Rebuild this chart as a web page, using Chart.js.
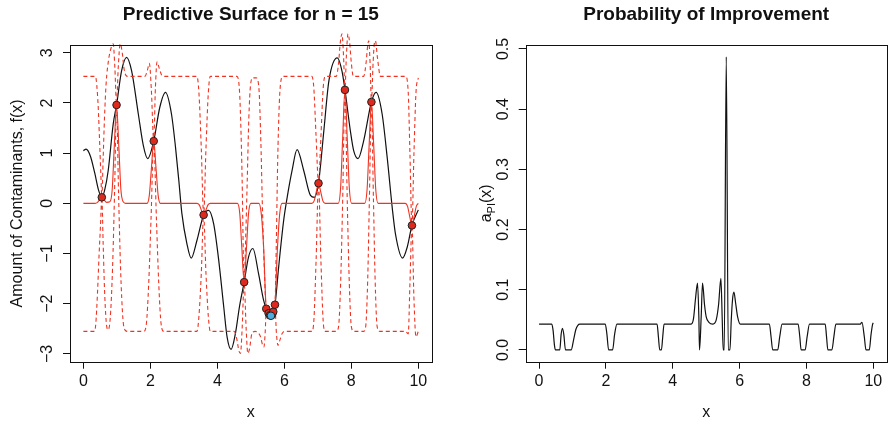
<!DOCTYPE html>
<html>
<head>
<meta charset="utf-8">
<script src="https://cdn.jsdelivr.net/npm/chart.js@4.4.0/dist/chart.umd.min.js"></script>
<style>
  html, body { margin: 0; padding: 0; background: #fff; }
  #wrap { position: relative; width: 889px; height: 424px; }
  #left { position: absolute; left: 0; top: 0; }
  #right { position: absolute; left: 445px; top: 0; }
</style>
</head>
<body>
<div id="wrap">
  <canvas id="left" width="445" height="424"></canvas>
  <canvas id="right" width="444" height="424"></canvas>
</div>
<script>
// ---- tick positions ----
const xTickValues = [0, 2, 4, 6, 8, 10];
const surfaceTickValues = [-3, -2, -1, 0, 1, 2, 3];
const piTickValues = [0, 0.1, 0.2, 0.3, 0.4, 0.5];

// ---- true response f(x) ----
const trueX = [0.00, 0.08, 0.21, 0.34, 0.45, 0.55, 0.64, 0.74, 0.89, 0.99, 1.14, 1.29, 1.44, 1.64, 1.79, 1.92,
  2.10, 2.28, 2.45, 2.63, 2.75, 2.85, 2.94, 3.09, 3.22, 3.39, 3.59, 3.74, 3.89, 4.04, 4.19, 4.29, 4.41, 4.54,
  4.66, 4.80, 4.93, 5.06, 5.23, 5.38, 5.46, 5.58, 5.72, 5.83, 5.98, 6.08, 6.23, 6.38, 6.58, 6.78, 6.90, 7.02,
  7.18, 7.33, 7.58, 7.72, 7.81, 7.97, 8.07, 8.20, 8.37, 8.60, 8.74, 8.92, 9.07, 9.23, 9.32, 9.53, 9.67, 9.81, 10.00];
const trueY = [1.05, 1.08, 0.94, 0.60, 0.27, 0.12, 0.28, 0.65, 1.58, 1.96, 2.64, 2.91, 2.64, 1.78, 1.15, 0.89,
  1.24, 1.91, 2.21, 1.78, 1.12, 0.45, -0.20, -0.80, -1.09, -0.74, -0.23, -0.14, -0.41, -1.13, -2.06, -2.66, -2.91, -2.59,
  -2.06, -1.57, -1.07, -0.90, -1.40, -1.93, -2.10, -2.25, -2.02, -1.27, -0.34, 0.10, 0.65, 1.07, 0.65, 0.16, 0.12, 0.40,
  1.45, 2.44, 2.90, 2.64, 2.26, 1.45, 1.05, 0.89, 1.25, 2.02, 2.21, 1.78, 0.92, -0.14, -0.62, -1.09, -0.87, -0.44, -0.13];

// ---- predictive mean ----
const meanX = [0.00, 0.35, 0.42, 0.48, 0.55, 0.62, 0.69, 0.79, 0.86, 0.92, 0.99, 1.06, 1.12, 1.19, 1.26,
  1.90, 1.97, 2.03, 2.10, 2.17, 2.23, 2.30,
  3.39, 3.46, 3.52, 3.59, 3.66, 3.72, 3.79,
  4.60, 4.67, 4.73, 4.80, 4.87, 4.93, 5.00,
  5.24, 5.31, 5.38, 5.46, 5.53, 5.57, 5.63, 5.67, 5.72, 5.79, 5.86, 5.93,
  6.82, 6.89, 6.95, 7.02, 7.09, 7.15, 7.22,
  7.61, 7.68, 7.74, 7.81, 7.88, 7.94, 8.01,
  8.40, 8.47, 8.53, 8.60, 8.67, 8.73, 8.80,
  9.61, 9.68, 9.74, 9.81, 9.88, 9.94, 10.00];
const meanY = [0.00, 0.00, 0.02, 0.07, 0.12, 0.07, 0.02, 0.03, 0.27, 1.10, 1.96, 1.10, 0.27, 0.03, 0.00,
  0.00, 0.17, 0.69, 1.24, 0.69, 0.17, 0.00,
  0.00, -0.03, -0.13, -0.23, -0.13, -0.03, 0.00,
  0.00, -0.21, -0.88, -1.57, -0.88, -0.21, 0.00,
  0.00, -0.20, -0.85, -2.10, -2.19, -2.23, -2.22, -2.16, -2.02, -0.95, -0.22, 0.00,
  0.00, 0.05, 0.22, 0.40, 0.22, 0.05, 0.00,
  0.00, 0.31, 1.27, 2.26, 1.27, 0.31, 0.00,
  0.00, 0.27, 1.13, 2.02, 1.13, 0.27, 0.00,
  0.00, -0.06, -0.25, -0.44, -0.25, -0.06, 0.00];

// ---- upper interval bound ----
const upperX = [0.00, 0.36, 0.40, 0.44, 0.48, 0.52, 0.55, 0.59, 0.63, 0.68, 0.75, 0.82, 0.89, 0.94, 0.99, 1.04,
  1.10, 1.16, 1.21, 1.27, 1.33,
  1.84, 1.91, 1.97, 2.03, 2.10, 2.15, 2.20, 2.27, 2.34, 2.40,
  3.39, 3.45, 3.52, 3.59, 3.66, 3.73, 3.79,
  4.58, 4.66, 4.73, 4.80, 4.85, 4.89, 4.94, 4.99, 5.06, 5.16, 5.24, 5.30, 5.35, 5.41,
  5.46, 5.50, 5.53, 5.55, 5.57, 5.60, 5.63, 5.65, 5.67, 5.70, 5.72, 5.76, 5.80, 5.85, 5.90, 5.96,
  6.82, 6.88, 6.95, 7.02, 7.09, 7.16, 7.22,
  7.55, 7.62, 7.67, 7.72, 7.77, 7.81, 7.85, 7.90, 7.95, 8.00, 8.06,
  8.37, 8.44, 8.49, 8.52, 8.56, 8.60, 8.65, 8.69, 8.72, 8.78, 8.87,
  9.62, 9.70, 9.75, 9.81, 9.87, 9.93, 10.00];
const upperY = [2.53, 2.53, 2.35, 1.95, 1.30, 0.60, 0.12, 0.90, 1.70, 2.40, 2.85, 3.08, 3.18, 2.70, 1.96, 2.70,
  3.18, 3.00, 2.70, 2.55, 2.53,
  2.53, 2.65, 2.79, 2.25, 1.24, 2.30, 2.82, 2.68, 2.55, 2.53,
  2.53, 2.20, 1.10, -0.23, 1.10, 2.20, 2.53,
  2.53, 2.25, 0.80, -1.57, -0.60, 0.40, 1.70, 2.35, 2.50, 2.50, 2.30, 1.20, -0.20, -1.45,
  -2.10, -2.06, -2.19, -2.16, -2.23, -2.15, -2.22, -2.13, -2.16, -1.98, -2.02, -0.80, 0.80, 2.00, 2.45, 2.53,
  2.53, 2.30, 1.30, 0.40, 1.30, 2.30, 2.53,
  2.53, 2.80, 3.20, 3.38, 2.90, 2.26, 2.90, 3.38, 3.20, 2.80, 2.53,
  2.53, 2.80, 3.15, 3.24, 2.80, 2.02, 2.80, 3.20, 3.24, 2.90, 2.53,
  2.53, 2.20, 1.00, -0.44, 1.00, 2.20, 2.50];

// ---- lower interval bound ----
const lowerX = [0.00, 0.33, 0.37, 0.42, 0.47, 0.51, 0.55, 0.59, 0.63, 0.68, 0.73, 0.80, 0.87, 0.93, 0.99, 1.05,
  1.11, 1.18, 1.25, 1.32,
  1.80, 1.88, 1.95, 2.02, 2.10, 2.18, 2.25, 2.32, 2.40,
  3.39, 3.45, 3.52, 3.59, 3.66, 3.73, 3.79,
  4.50, 4.58, 4.64, 4.69, 4.74, 4.80, 4.86, 4.91, 4.96, 5.03, 5.13, 5.22, 5.29, 5.35, 5.39, 5.43,
  5.46, 5.50, 5.53, 5.55, 5.57, 5.60, 5.63, 5.65, 5.67, 5.70, 5.72, 5.76, 5.81, 5.87, 5.93, 6.00,
  6.82, 6.88, 6.95, 7.02, 7.09, 7.16, 7.22,
  7.55, 7.62, 7.68, 7.74, 7.81, 7.88, 7.94, 8.00, 8.07,
  8.37, 8.43, 8.49, 8.54, 8.60, 8.66, 8.71, 8.77, 8.85,
  9.62, 9.70, 9.75, 9.81, 9.87, 9.93, 10.00];
const lowerY = [-2.55, -2.55, -2.40, -1.80, -1.00, -0.45, 0.12, -0.80, -1.70, -2.35, -2.52, -2.30, -1.30, 0.20, 1.96, 0.20,
  -1.30, -2.30, -2.53, -2.55,
  -2.55, -2.40, -1.60, -0.30, 1.24, -0.30, -1.60, -2.40, -2.55,
  -2.55, -2.25, -1.40, -0.23, -1.40, -2.25, -2.55,
  -2.55, -2.70, -2.93, -2.99, -2.50, -1.57, -2.50, -2.99, -2.90, -2.60, -2.55, -2.58, -2.66, -2.82, -2.86, -2.55,
  -2.10, -2.24, -2.19, -2.28, -2.23, -2.33, -2.22, -2.26, -2.16, -2.12, -2.02, -2.55, -2.83, -2.72, -2.60, -2.55,
  -2.55, -2.35, -1.10, 0.40, -1.10, -2.35, -2.55,
  -2.55, -2.45, -1.60, 0.00, 2.26, 0.00, -1.60, -2.45, -2.55,
  -2.55, -2.45, -1.50, 0.10, 2.02, 0.10, -1.50, -2.45, -2.55,
  -2.55, -2.60, -1.60, -0.44, -1.90, -2.66, -2.55];

// ---- evaluated design (n = 15) and the next acquisition ----
const designX = [0.55, 0.99, 2.10, 3.59, 4.80, 5.46, 5.53, 5.57, 5.63, 5.67, 5.72, 7.02, 7.81, 8.60, 9.81];
const designY = [0.12, 1.96, 1.24, -0.23, -1.57, -2.10, -2.19, -2.23, -2.22, -2.16, -2.02, 0.40, 2.26, 2.02, -0.44];
const nextX = [5.60];
const nextY = [-2.24];

// ---- probability of improvement ----
const piX = [0.00, 0.38, 0.42, 0.46, 0.49, 0.62, 0.66, 0.70, 0.74, 0.79, 0.96, 1.03, 1.10, 1.16, 1.22,
  1.98, 2.03, 2.08, 2.20, 2.26, 2.33,
  3.53, 3.57, 3.61, 3.66, 3.70, 3.74,
  4.55, 4.62, 4.68, 4.74, 4.78, 4.80, 4.85, 4.89, 4.95, 5.00, 5.08, 5.20,
  5.30, 5.37, 5.44, 5.48, 5.51, 5.54, 5.60, 5.66, 5.71, 5.75, 5.79, 5.83, 5.88, 5.94, 6.02,
  6.89, 6.94, 6.99, 7.14, 7.20, 7.27,
  7.75, 7.80, 7.84, 7.96, 8.02, 8.09,
  8.56, 8.60, 8.64, 8.76, 8.82, 8.88,
  9.61, 9.66, 9.73, 9.78, 9.88, 9.93, 9.98, 10.00];
const piY = [0.043, 0.043, 0.032, 0.008, 0.000, 0.000, 0.026, 0.036, 0.026, 0.000, 0.000, 0.016, 0.034, 0.041, 0.043,
  0.043, 0.026, 0.000, 0.000, 0.026, 0.043,
  0.043, 0.022, 0.000, 0.000, 0.022, 0.043,
  0.043, 0.052, 0.085, 0.111, 0.055, 0.000, 0.055, 0.111, 0.075, 0.055, 0.046, 0.043,
  0.050, 0.075, 0.119, 0.050, 0.000, 0.000, 0.487, 0.000, 0.000, 0.050, 0.085, 0.096, 0.078, 0.055, 0.043,
  0.043, 0.022, 0.000, 0.000, 0.022, 0.043,
  0.043, 0.022, 0.000, 0.000, 0.022, 0.043,
  0.043, 0.022, 0.000, 0.000, 0.022, 0.043,
  0.043, 0.046, 0.022, 0.000, 0.000, 0.025, 0.043, 0.045];

// ---- styling ----
const FAMILY = '"Liberation Sans", Arial, Helvetica, sans-serif';
const INK = '#111';
const RED = '#ee3322';
const AXIS_PX = 16;

const pts = (xs, ys) => xs.map((x, i) => ({ x, y: ys[i] }));
const minusFmt = v => (v < 0 ? '\u2212' + Math.abs(v) : String(v));

// Box, tick labels and axis titles in the style of base graphics
function rStyleAxes(id, s) {
  return {
    id,
    afterDraw(chart) {
      const { ctx, chartArea: a } = chart;
      const xs = chart.scales.x, ys = chart.scales.y;
      ctx.save();
      ctx.strokeStyle = INK;
      ctx.lineWidth = 1;
      const l = Math.round(a.left), r = Math.round(a.right), t = Math.round(a.top), b = Math.round(a.bottom);
      ctx.strokeRect(l + 0.5, t + 0.5, r - l, b - t);

      ctx.fillStyle = INK;
      ctx.font = AXIS_PX + 'px ' + FAMILY;
      ctx.textAlign = 'center';
      ctx.textBaseline = 'middle';
      xTickValues.forEach(v => ctx.fillText(String(v), xs.getPixelForValue(v), s.xLabelY));
      ctx.fillText('x', (a.left + a.right) / 2, s.xTitleY);

      ctx.textBaseline = 'alphabetic';
      s.yTicks.forEach(v => {
        ctx.save();
        ctx.translate(s.yLabelX, ys.getPixelForValue(v));
        ctx.rotate(-Math.PI / 2);
        ctx.fillText(s.format(v), 0, 0);
        ctx.restore();
      });

      ctx.save();
      ctx.translate(s.yTitleX, (a.top + a.bottom) / 2);
      ctx.rotate(-Math.PI / 2);
      ctx.textAlign = 'left';
      let total = 0;
      const widths = s.yTitle.map(p => {
        ctx.font = p.size + 'px ' + FAMILY;
        const w = ctx.measureText(p.text).width;
        total += w;
        return w;
      });
      let cx = -total / 2;
      s.yTitle.forEach((p, i) => {
        ctx.font = p.size + 'px ' + FAMILY;
        ctx.fillText(p.text, cx, p.drop);
        cx += widths[i];
      });
      ctx.restore();
      ctx.restore();
    }
  };
}

function axis(min, max, ticks, fit) {
  return {
    type: 'linear',
    min, max,
    afterBuildTicks: sc => { sc.ticks = ticks.map(v => ({ value: v })); },
    afterFit: fit,
    ticks: { display: false },
    border: { display: false },
    grid: { display: true, drawOnChartArea: false, drawTicks: true, tickLength: 7, color: INK, lineWidth: 1 }
  };
}

function baseOptions(title, padLeft, padRight, yMin, yMax, yTicks) {
  return {
    responsive: false,
    animation: false,
    events: [],
    layout: { padding: { left: padLeft, right: padRight, top: 0, bottom: 0 } },
    plugins: {
      legend: { display: false },
      tooltip: { enabled: false },
      title: {
        display: true, text: title, color: INK, fullSize: false,
        font: { family: FAMILY, size: 19, weight: 'bold' },
        padding: { top: 3, bottom: 19.2 }
      }
    },
    scales: {
      x: axis(-0.4, 10.4, xTickValues, sc => { sc.height = 62.3; }),
      y: axis(yMin, yMax, yTicks, sc => { sc.width = 0; })
    }
  };
}

const lineSet = (data, color, width, extra) => Object.assign({
  data, showLine: true, borderColor: color, borderWidth: width, pointRadius: 0,
  cubicInterpolationMode: 'monotone', fill: false
}, extra || {});

// Left panel: predictive surface
new Chart(document.getElementById('left'), {
  type: 'scatter',
  data: {
    datasets: [
      lineSet(pts(trueX, trueY), INK, 1.2, { order: 5 }),
      lineSet(pts(upperX, upperY), RED, 1.1, { borderDash: [4, 3], clip: false, order: 4 }),
      lineSet(pts(lowerX, lowerY), RED, 1.1, { borderDash: [4, 3], clip: false, order: 3 }),
      lineSet(pts(meanX, meanY), RED, 1.1, { order: 2 }),
      {
        data: pts(designX, designY), showLine: false, pointRadius: 3.8, pointStyle: 'circle',
        pointBackgroundColor: '#e0291d', pointBorderColor: '#222', pointBorderWidth: 1, order: 1
      },
      {
        data: pts(nextX, nextY), showLine: false, pointRadius: 3.8, pointStyle: 'circle',
        pointBackgroundColor: '#4aaee2', pointBorderColor: '#222', pointBorderWidth: 1, order: 0
      }
    ]
  },
  options: baseOptions('Predictive Surface for n = 15', 70, 13.3, -3.155, 3.155, surfaceTickValues),
  plugins: [rStyleAxes('surfaceAxes', {
    xLabelY: 382, xTitleY: 413, yLabelX: 52, yTicks: surfaceTickValues, format: minusFmt,
    yTitleX: 22, yTitle: [{ text: 'Amount of Contaminants, f(x)', size: AXIS_PX, drop: 0 }]
  })]
});

// Right panel: probability of improvement
new Chart(document.getElementById('right'), {
  type: 'scatter',
  data: {
    datasets: [lineSet(pts(piX, piY), INK, 1.2)]
  },
  options: baseOptions('Probability of Improvement', 80.7, 2.3, -0.0195, 0.5065, piTickValues),
  plugins: [rStyleAxes('piAxes', {
    xLabelY: 382, xTitleY: 413, yLabelX: 62.5, yTicks: piTickValues, format: v => v.toFixed(1),
    yTitleX: 46, yTitle: [
      { text: 'a', size: AXIS_PX, drop: 0 },
      { text: 'PI', size: 11, drop: 4 },
      { text: '(x)', size: AXIS_PX, drop: 0 }
    ]
  })]
});
</script>
</body>
</html>
